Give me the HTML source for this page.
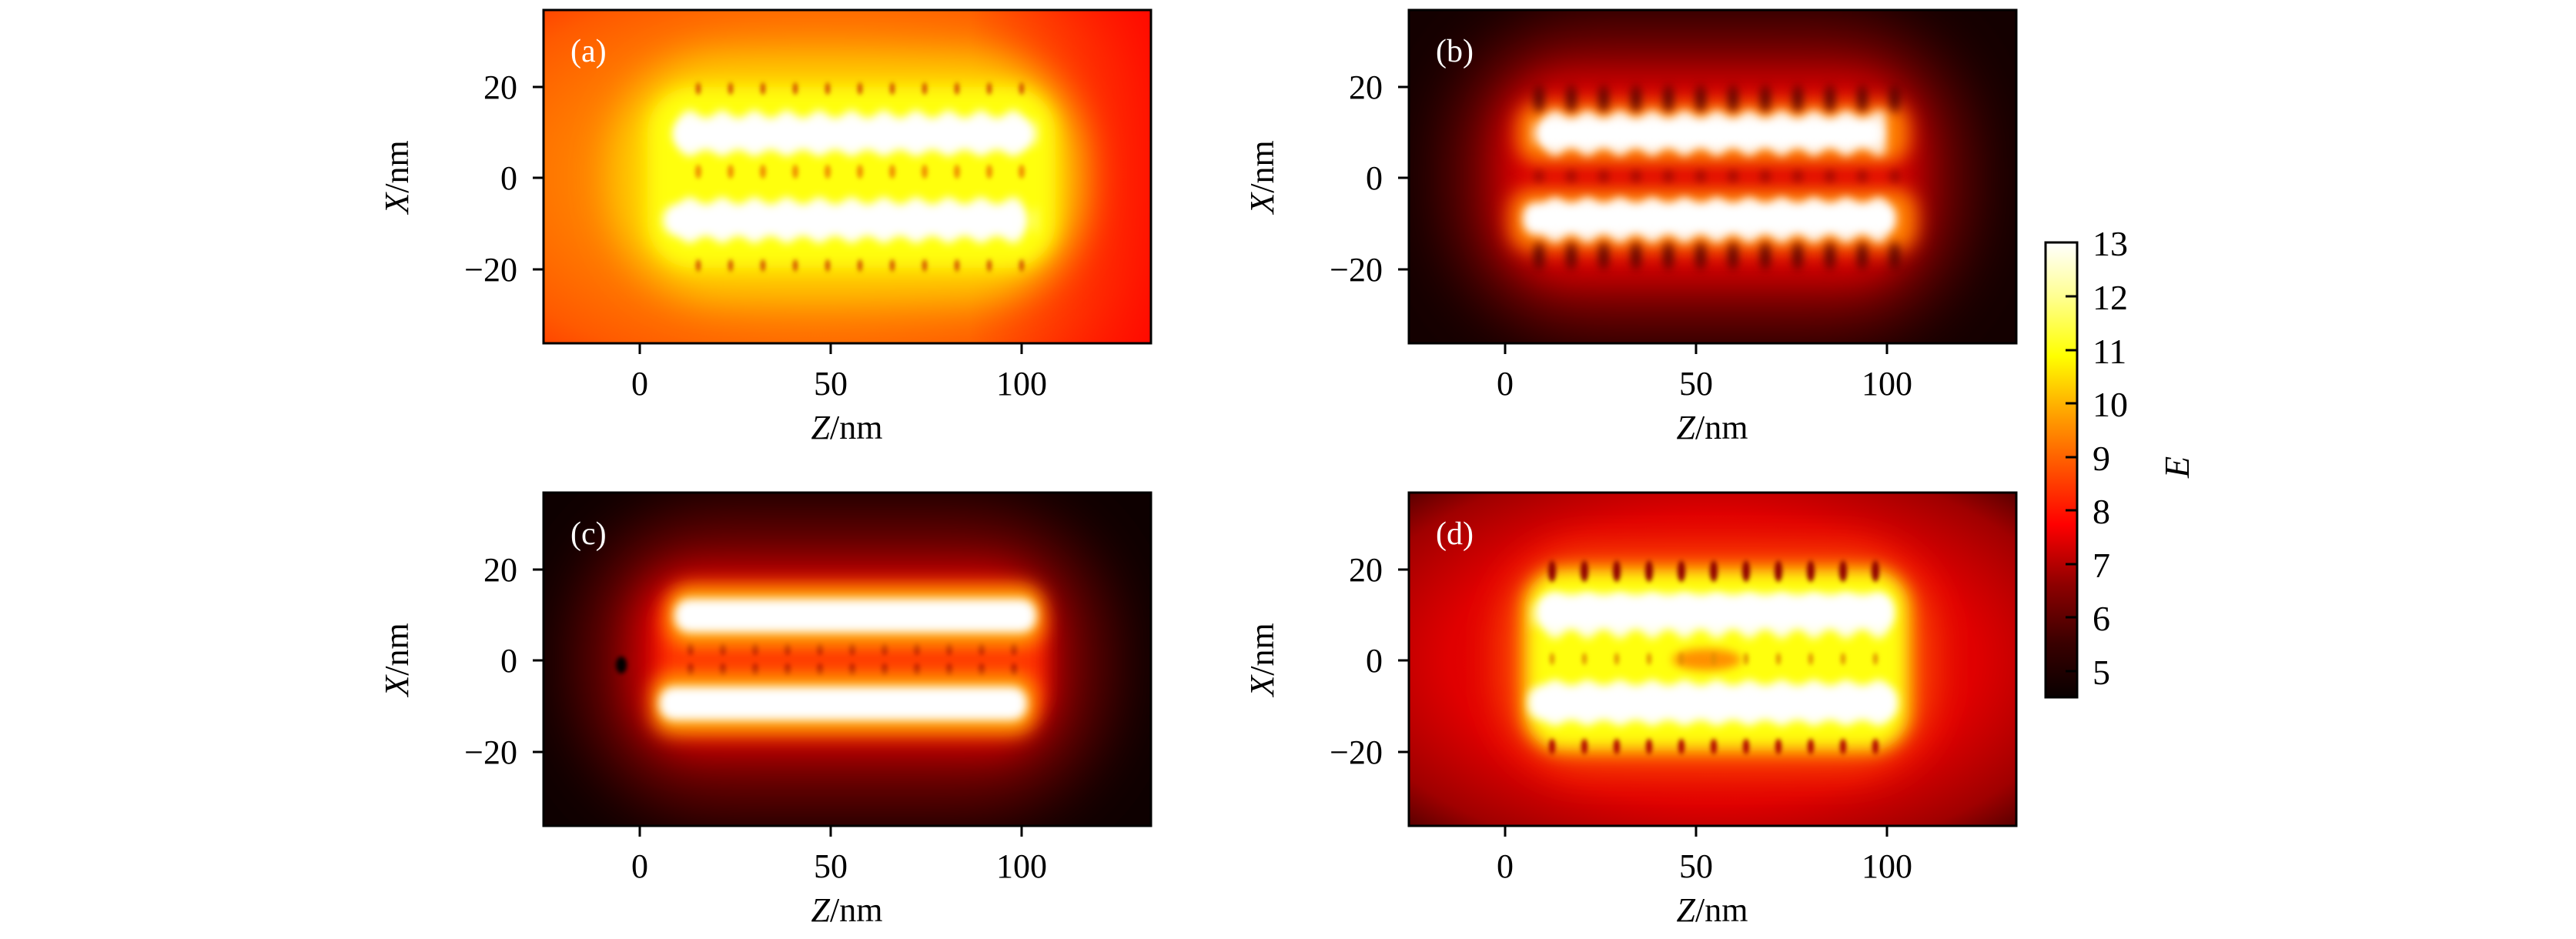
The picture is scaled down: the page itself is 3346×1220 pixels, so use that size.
<!DOCTYPE html>
<html><head><meta charset="utf-8"><style>
html,body{margin:0;padding:0;background:#fff;}
svg{display:block;}
text{font-family:"Liberation Serif",serif;fill:#000;}
</style></head><body>
<svg width="3346" height="1220" viewBox="0 0 3346 1220" xmlns="http://www.w3.org/2000/svg">
<defs>
<filter id="b3" x="-50%" y="-50%" width="200%" height="200%"><feGaussianBlur stdDeviation="3"/></filter>
<filter id="b6" x="-50%" y="-50%" width="200%" height="200%"><feGaussianBlur stdDeviation="6"/></filter>
<filter id="b12" x="-50%" y="-50%" width="200%" height="200%"><feGaussianBlur stdDeviation="12"/></filter>
<filter id="b25" x="-50%" y="-50%" width="200%" height="200%"><feGaussianBlur stdDeviation="25"/></filter>
<filter id="b45" x="-50%" y="-50%" width="200%" height="200%"><feGaussianBlur stdDeviation="45"/></filter>
<pattern id="lobes" patternUnits="userSpaceOnUse" width="42" height="433" x="169"><ellipse cx="21" cy="160" rx="16" ry="30" fill="#fff"/><ellipse cx="21" cy="273" rx="16" ry="30" fill="#fff"/></pattern>
<pattern id="darkTongue" patternUnits="userSpaceOnUse" width="42" height="433" x="148"><ellipse cx="21" cy="115" rx="6" ry="18" fill="#500000"/><ellipse cx="21" cy="320" rx="6" ry="18" fill="#500000"/><ellipse cx="21" cy="216" rx="4" ry="7" fill="#600000"/></pattern>
<pattern id="dotsA" patternUnits="userSpaceOnUse" width="42" height="433" x="180"><ellipse cx="21" cy="102" rx="3" ry="8" fill="#d04a00"/><ellipse cx="21" cy="332" rx="3" ry="8" fill="#d04a00"/><ellipse cx="21" cy="210" rx="4" ry="9" fill="#f09000"/></pattern>
<pattern id="dotsD" patternUnits="userSpaceOnUse" width="42" height="433" x="165"><ellipse cx="21" cy="102" rx="5" ry="14" fill="#900000"/><ellipse cx="21" cy="330" rx="4" ry="10" fill="#b00000"/><ellipse cx="21" cy="216" rx="3" ry="8" fill="#e09000"/></pattern>
<pattern id="dotsC" patternUnits="userSpaceOnUse" width="42" height="433" x="170"><ellipse cx="21" cy="203" rx="4" ry="8" fill="#b00000"/><ellipse cx="21" cy="230" rx="4" ry="8" fill="#b00000"/></pattern>
<radialGradient id="bgA" cx="45%" cy="50%" r="75%"><stop offset="0" stop-color="#ffb000"/><stop offset="0.45" stop-color="#ff8a00"/><stop offset="0.8" stop-color="#ff5a00"/><stop offset="1" stop-color="#ff3000"/></radialGradient>
<linearGradient id="rightRed" x1="0" x2="1" y1="0" y2="0"><stop offset="0.7" stop-color="#ff0000" stop-opacity="0"/><stop offset="1" stop-color="#ff0000" stop-opacity="0.8"/></linearGradient>
<radialGradient id="bgD" cx="50%" cy="50%" r="72%"><stop offset="0" stop-color="#ff1a00"/><stop offset="0.6" stop-color="#e00000"/><stop offset="0.85" stop-color="#a00000"/><stop offset="1" stop-color="#500000"/></radialGradient>
<linearGradient id="cb" x1="0" x2="0" y1="1" y2="0">
<stop offset="0" stop-color="#080000"/><stop offset="0.12" stop-color="#3a0000"/><stop offset="0.25" stop-color="#900000"/><stop offset="0.38" stop-color="#ff0000"/><stop offset="0.5" stop-color="#ff5000"/><stop offset="0.62" stop-color="#ffa000"/><stop offset="0.75" stop-color="#ffff00"/><stop offset="0.88" stop-color="#ffff90"/><stop offset="1" stop-color="#ffffff"/></linearGradient>
</defs>

<!-- Panel a -->
<svg x="706" y="13" width="789" height="433">
<rect width="789" height="433" fill="url(#bgA)"/>
<rect width="789" height="433" fill="url(#rightRed)"/>
<rect x="90" y="60" width="610" height="315" rx="140" fill="#ffd000" filter="url(#b25)"/>
<rect x="135" y="100" width="530" height="235" rx="60" fill="#ffff10" filter="url(#b12)"/>
<rect x="165" y="80" width="475" height="270" fill="url(#dotsA)" filter="url(#b3)"/>
<rect x="168" y="140" width="470" height="42" rx="20" fill="#fff" filter="url(#b6)"/>
<rect x="155" y="252" width="470" height="42" rx="20" fill="#fff" filter="url(#b6)"/>
<rect x="165" y="120" width="475" height="190" fill="url(#lobes)" filter="url(#b6)" opacity="0.9"/>
</svg>
<text x="741" y="80" font-size="42" style="fill:#fff">(a)</text>

<!-- Panel b -->
<svg x="1830" y="13" width="789" height="433">
<rect width="789" height="433" fill="#140000"/>
<rect x="60" y="20" width="660" height="395" rx="170" fill="#8a0000" filter="url(#b45)"/>
<rect x="120" y="85" width="540" height="265" rx="90" fill="#e00000" filter="url(#b25)"/>
<rect x="140" y="120" width="510" height="80" rx="30" fill="#ff8000" filter="url(#b12)"/>
<rect x="130" y="232" width="530" height="82" rx="30" fill="#ff8000" filter="url(#b12)"/>
<rect x="150" y="85" width="490" height="265" fill="url(#darkTongue)" filter="url(#b6)"/>
<rect x="165" y="140" width="450" height="40" rx="18" fill="#fff" filter="url(#b6)"/>
<rect x="148" y="250" width="485" height="42" rx="18" fill="#fff" filter="url(#b6)"/>
<rect x="160" y="125" width="460" height="180" fill="url(#lobes)" filter="url(#b6)" opacity="0.8"/>
</svg>
<text x="1865" y="80" font-size="42" style="fill:#fff">(b)</text>

<!-- Panel c -->
<svg x="706" y="640" width="789" height="433">
<rect width="789" height="433" fill="#0e0000"/>
<rect x="50" y="30" width="680" height="380" rx="170" fill="#7a0000" filter="url(#b45)"/>
<rect x="120" y="100" width="540" height="235" rx="80" fill="#e00000" filter="url(#b25)"/>
<rect x="150" y="130" width="500" height="170" rx="40" fill="#ff3000" filter="url(#b12)"/>
<rect x="160" y="185" width="480" height="60" fill="url(#dotsC)" filter="url(#b3)"/>
<rect x="160" y="120" width="490" height="80" rx="30" fill="#ffa000" filter="url(#b12)"/>
<rect x="140" y="235" width="500" height="80" rx="30" fill="#ffa000" filter="url(#b12)"/>
<rect x="170" y="138" width="470" height="44" rx="20" fill="#fff" filter="url(#b6)"/>
<rect x="150" y="252" width="478" height="44" rx="20" fill="#fff" filter="url(#b6)"/>
<ellipse cx="101" cy="224" rx="7" ry="11" fill="#000" filter="url(#b3)"/>
</svg>
<text x="741" y="707" font-size="42" style="fill:#fff">(c)</text>

<!-- Panel d -->
<svg x="1830" y="640" width="789" height="433">
<rect width="789" height="433" fill="url(#bgD)"/>
<rect x="120" y="75" width="560" height="285" rx="110" fill="#ff5000" filter="url(#b25)"/>
<rect x="150" y="100" width="500" height="235" rx="50" fill="#ffff10" filter="url(#b12)"/>
<ellipse cx="387" cy="217" rx="45" ry="14" fill="#ff9000" filter="url(#b6)"/>
<rect x="160" y="80" width="480" height="270" fill="url(#dotsD)" filter="url(#b3)"/>
<rect x="165" y="132" width="465" height="46" rx="20" fill="#fff" filter="url(#b6)"/>
<rect x="155" y="250" width="480" height="46" rx="20" fill="#fff" filter="url(#b6)"/>
<rect x="160" y="118" width="475" height="190" fill="url(#lobes)" filter="url(#b6)" opacity="0.85"/>
</svg>
<text x="1865" y="707" font-size="42" style="fill:#fff">(d)</text>

<!-- Frames, ticks, labels -->
<g fill="none" stroke="#000" stroke-width="3">
<rect x="706" y="13" width="789" height="433"/>
<rect x="1830" y="13" width="789" height="433"/>
<rect x="706" y="640" width="789" height="433"/>
<rect x="1830" y="640" width="789" height="433"/>
<path d="M831 446v14M1079 446v14M1327 446v14M706 113h-14M706 231h-14M706 350h-14"/>
<path d="M1955 446v14M2203 446v14M2451 446v14M1830 113h-14M1830 231h-14M1830 350h-14"/>
<path d="M831 1073v14M1079 1073v14M1327 1073v14M706 740h-14M706 858h-14M706 977h-14"/>
<path d="M1955 1073v14M2203 1073v14M2451 1073v14M1830 740h-14M1830 858h-14M1830 977h-14"/>
</g>
<g font-size="44">
<g text-anchor="end">
<text x="672" y="128">20</text><text x="672" y="246">0</text><text x="672" y="365">−20</text>
<text x="1796" y="128">20</text><text x="1796" y="246">0</text><text x="1796" y="365">−20</text>
<text x="672" y="755">20</text><text x="672" y="873">0</text><text x="672" y="992">−20</text>
<text x="1796" y="755">20</text><text x="1796" y="873">0</text><text x="1796" y="992">−20</text>
</g>
<g text-anchor="middle">
<text x="831" y="513">0</text><text x="1079" y="513">50</text><text x="1327" y="513">100</text>
<text x="1955" y="513">0</text><text x="2203" y="513">50</text><text x="2451" y="513">100</text>
<text x="831" y="1140">0</text><text x="1079" y="1140">50</text><text x="1327" y="1140">100</text>
<text x="1955" y="1140">0</text><text x="2203" y="1140">50</text><text x="2451" y="1140">100</text>
<text x="1100" y="570"><tspan font-style="italic">Z</tspan>/nm</text>
<text x="2224" y="570"><tspan font-style="italic">Z</tspan>/nm</text>
<text x="1100" y="1197"><tspan font-style="italic">Z</tspan>/nm</text>
<text x="2224" y="1197"><tspan font-style="italic">Z</tspan>/nm</text>
<text transform="translate(530 230) rotate(-90)"><tspan font-style="italic">X</tspan>/nm</text>
<text transform="translate(1654 230) rotate(-90)"><tspan font-style="italic">X</tspan>/nm</text>
<text transform="translate(530 857) rotate(-90)"><tspan font-style="italic">X</tspan>/nm</text>
<text transform="translate(1654 857) rotate(-90)"><tspan font-style="italic">X</tspan>/nm</text>
</g>
</g>

<!-- Colorbar -->
<rect x="2657" y="315" width="41" height="591" fill="url(#cb)" stroke="#000" stroke-width="3"/>
<g stroke="#000" stroke-width="3">
<path d="M2683 385h15M2683 455h15M2683 524h15M2683 594h15M2683 663h15M2683 733h15M2683 802h15M2683 872h15"/>
</g>
<g font-size="46">
<text x="2718" y="332">13</text><text x="2718" y="402">12</text><text x="2718" y="472">11</text><text x="2718" y="541">10</text>
<text x="2718" y="611">9</text><text x="2718" y="680">8</text><text x="2718" y="750">7</text><text x="2718" y="819">6</text><text x="2718" y="889">5</text>
<text font-style="italic" transform="translate(2843 607) rotate(-90)" text-anchor="middle">E</text>
</g>
</svg>
</body></html>
